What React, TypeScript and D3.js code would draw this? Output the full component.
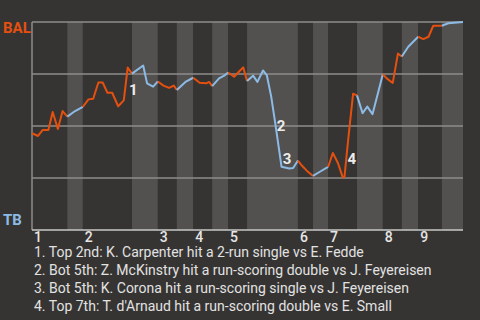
import React from "react";
import * as d3 from "d3";

// Half-inning boundaries in % of game progress
const halfInningBounds = [0, 8.2, 11.8, 23.2, 29.2, 33.6, 37.4, 41.8, 45.5, 49.9, 61.7, 65.2, 68.7, 75.4, 81.4, 85.8, 89.6, 95.1, 100];
const inningLabels = ["1", "2", "3", "4", "5", "6", "7", "8", "9"];

// Play-by-play progress (% of game) and BAL win probability
const progress = [
  0, 1.4, 2.5, 3.8, 4.8, 6.0, 7.1, 8.2,
  10.0, 11.8,
  13.1, 14.2, 15.4, 16.4, 17.5, 18.6, 20.0, 21.3, 22.2, 23.2,
  25.8, 26.7, 28.1, 29.2,
  30.5, 31.8, 32.9, 33.6,
  35.6, 37.4,
  38.9, 40.4, 41.1, 41.8,
  43.4, 44.8, 45.5,
  46.9, 48.0, 49.0, 49.9,
  51.3, 52.3, 53.6, 54.5, 55.5, 56.4, 57.4, 57.9, 59.7, 60.6, 61.7,
  62.6, 63.8, 65.2,
  66.8, 68.7,
  69.8, 71.0, 72.1, 72.5, 73.4, 74.5, 75.4,
  76.7, 77.8, 79.0, 81.4,
  82.3, 83.7, 84.9, 85.8,
  87.3, 89.6,
  90.8, 92.0, 93.1, 95.1,
  96.6, 100,
];
const winProb = [
  0.465, 0.452, 0.481, 0.481, 0.567, 0.486, 0.572, 0.545,
  0.572, 0.592,
  0.628, 0.631, 0.709, 0.709, 0.66, 0.66, 0.595, 0.623, 0.781, 0.752,
  0.791, 0.705, 0.689, 0.714,
  0.694, 0.683, 0.694, 0.673,
  0.712, 0.732,
  0.708, 0.705, 0.712, 0.692,
  0.729, 0.745, 0.757,
  0.737, 0.761, 0.782, 0.716,
  0.742, 0.712, 0.767, 0.743, 0.641, 0.519, 0.376, 0.304, 0.296, 0.298, 0.334,
  0.31, 0.284, 0.26,
  0.28, 0.303,
  0.37, 0.321, 0.253, 0.255, 0.442, 0.655, 0.647,
  0.562, 0.593, 0.557, 0.749,
  0.729, 0.707, 0.848, 0.834,
  0.881, 0.929,
  0.918, 0.929, 0.982, 0.982,
  0.994, 1.0,
];

// Key play markers
const markerLabels = ["1", "2", "3", "4"];
const markerProgress = [22.5, 56.8, 58.2, 73.2];
const markerProb = [0.649, 0.478, 0.316, 0.315];

const keyPlays = [
  "1. Top 2nd: K. Carpenter hit a 2-run single vs E. Fedde",
  "2. Bot 5th: Z. McKinstry hit a run-scoring double vs J. Feyereisen",
  "3. Bot 5th: K. Corona hit a run-scoring single vs J. Feyereisen",
  "4. Top 7th: T. d'Arnaud hit a run-scoring double vs E. Small",
];

const gridValues = [0.25, 0.5, 0.75, 1];

const W = 480;
const H = 320;
const BG = "#363432";
const BAND = "#525150";
const ORANGE = "#e5500f";
const BLUE = "#8dbbe6";
const FONT = "Roboto, 'Noto Sans', sans-serif";

export default function App() {
  const x = d3.scaleLinear().domain([0, 100]).range([32, 463]);
  const y = d3.scaleLinear().domain([0, 1]).range([230, 22]);

  const pts = progress.map((p, i) => [p, winProb[i]] as [number, number]);
  const line = d3
    .line<[number, number]>()
    .x((d) => x(d[0]))
    .y((d) => y(d[1]));

  // group segments by half-inning
  const halfIndex = (v: number) => {
    for (let k = 0; k < halfInningBounds.length - 1; k++) {
      if (v >= halfInningBounds[k] && v <= halfInningBounds[k + 1]) return k;
    }
    return halfInningBounds.length - 2;
  };
  const groups: { half: number; pts: [number, number][] }[] = [];
  for (let i = 1; i < pts.length; i++) {
    const mid = (pts[i - 1][0] + pts[i][0]) / 2;
    const h = halfIndex(mid);
    const last = groups[groups.length - 1];
    if (last && last.half === h) last.pts.push(pts[i]);
    else groups.push({ half: h, pts: [pts[i - 1], pts[i]] });
  }

  const bands = halfInningBounds.slice(0, -1).map((b, k) => ({
    x0: b,
    x1: halfInningBounds[k + 1],
    light: k % 2 === 1,
  }));

  return (
    <svg
      width={W}
      height={H}
      style={{ position: "absolute", left: 0, top: 0, display: "block" }}
      fontFamily={FONT}
    >
      <rect x={0} y={0} width={W} height={H} fill={BG} />
      {bands.map((b, i) => (
        <rect
          key={i}
          x={x(b.x0)}
          y={y(1)}
          width={x(b.x1) - x(b.x0)}
          height={y(0) - y(1)}
          fill={b.light ? BAND : BG}
        />
      ))}
      {gridValues.map((g) => (
        <line key={g} x1={x(0)} x2={x(100)} y1={y(g)} y2={y(g)} stroke="#8e8d8b" strokeWidth={1.5} />
      ))}
      <line x1={x(0)} x2={x(0)} y1={y(1)} y2={y(0)} stroke="#8e8d8b" strokeWidth={1.5} />
      <line x1={x(0)} x2={x(100)} y1={y(0)} y2={y(0)} stroke="#c8c8c8" strokeWidth={1.5} />
      {groups.map((g, i) => (
        <path
          key={i}
          d={line(g.pts) || ""}
          fill="none"
          stroke={g.half % 2 === 0 ? ORANGE : BLUE}
          strokeWidth={2}
          strokeLinejoin="round"
        />
      ))}
      {markerLabels.map((m, i) => (
        <text
          key={m}
          x={x(markerProgress[i])}
          y={y(markerProb[i])}
          fill="#ececec"
          fontSize={15}
          fontWeight="bold"
        >
          {m}
        </text>
      ))}
      <text x={3} y={33} fill={ORANGE} fontSize={15} fontWeight="bold">BAL</text>
      <text x={3} y={225} fill={BLUE} fontSize={15} fontWeight="bold">TB</text>
      {inningLabels.map((l, i) => (
        <text key={l} x={x(halfInningBounds[i * 2]) + 2} y={241.5} fill="#e6e6e6" fontSize={14} fontWeight={500}>
          {l}
        </text>
      ))}
      {keyPlays.map((t, i) => (
        <text key={i} x={34} y={257.3 + i * 18} fill="#e2e2e2" fontSize={14}>
          {t}
        </text>
      ))}
    </svg>
  );
}
